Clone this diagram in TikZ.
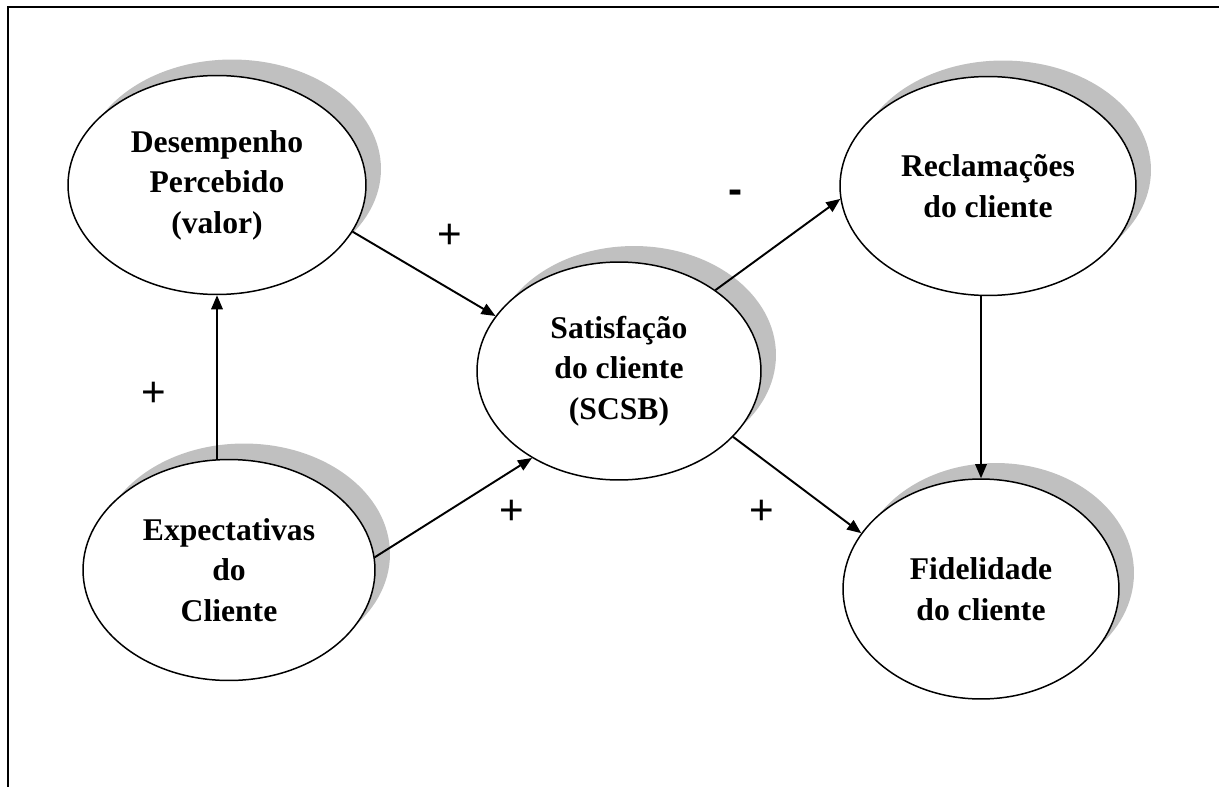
\documentclass[tikz,border=0pt]{standalone}
\usepackage{fontspec}
\setmainfont{Liberation Serif}
\newfontfamily\signfont{Liberation Sans}
\usepackage{xcolor}
\usepackage{tikz}
\usetikzlibrary{shapes.geometric,shadows,arrows.meta}

\definecolor{shadowgray}{HTML}{C0C0C0}

\tikzset{
  oval/.style={ellipse, draw, fill=white, line width=0.85pt, inner sep=0pt,
    align=center, font=\bfseries\fontsize{18}{23}\selectfont,
    drop shadow={shadow xshift=0.3cm, shadow yshift=0.32cm, opacity=1, fill=shadowgray}},
  flow/.style={-{Triangle[length=8pt,width=6.5pt]}, line width=1.1pt},
  sign/.style={font=\signfont\fontsize{24}{24}\selectfont, inner sep=0pt}
}

\begin{document}
\begin{tikzpicture}[x=0.02cm, y=-0.02cm]
\useasboundingbox (0,0) rectangle (1219,787);

% Frame
\draw[line width=1.1pt] (1219,7) -- (8,7) -- (8,787);

% Constructs
\node[oval, minimum width=5.96cm, minimum height=4.38cm] (des) at (217,185)
  {Desempenho\\Percebido\\(valor)};
\node[oval, minimum width=5.92cm, minimum height=4.38cm] (rec) at (988,186)
  {Reclamações\\do cliente};
\node[oval, minimum width=5.68cm, minimum height=4.36cm] (sat) at (619,371)
  {Satisfação\\do cliente\\(SCSB)};
\node[oval, minimum width=5.84cm, minimum height=4.42cm] (exp) at (229,570)
  {Expectativas\\do\\Cliente};
\node[oval, minimum width=5.52cm, minimum height=4.40cm] (fid) at (981,589)
  {Fidelidade\\do cliente};

% Arrows
\draw[flow] (exp.north -| des.south) -- (des.south);
\draw[flow] (des.-19) -- (sat.156);
\draw[flow] (exp.5) -- (sat.225);
\draw[flow] (sat.40) -- (rec.185);
\draw[flow] (sat.-30) -- (fid.155);
\draw[flow] (rec.south -| fid.north) -- (fid.north);

% Signs
\node[sign] (sDes) at (450,236) {+};
\node[sign] (sExp) at (154,394) {+};
\node[sign, font=\signfont\bfseries\fontsize{24}{24}\selectfont] (sRec) at (736,197) {-};
\node[sign] (sSat) at (512,512) {+};
\node[sign] (sFid) at (762,512) {+};

\end{tikzpicture}
\end{document}
